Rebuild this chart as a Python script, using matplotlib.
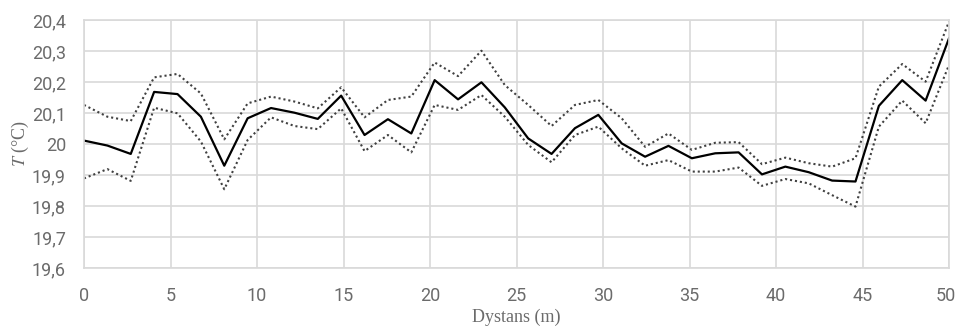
import numpy as np
import matplotlib
matplotlib.use("Agg")
import matplotlib.pyplot as plt
import matplotlib.transforms as mtransforms
from matplotlib.ticker import FuncFormatter, MultipleLocator

n_points = 38
distance = np.linspace(0, 50, n_points)

mean_T = [20.011, 19.995, 19.968, 20.168, 20.161, 20.088, 19.930, 20.083, 20.116, 20.101,
          20.081, 20.156, 20.029, 20.080, 20.034, 20.206, 20.144, 20.199, 20.118, 20.018,
          19.968, 20.051, 20.094, 20.002, 19.959, 19.994, 19.954, 19.970, 19.973, 19.902,
          19.927, 19.909, 19.882, 19.879, 20.123, 20.206, 20.140, 20.341]
upper_T = [20.126, 20.088, 20.074, 20.215, 20.226, 20.163, 20.015, 20.131, 20.153, 20.137,
           20.115, 20.183, 20.086, 20.142, 20.153, 20.263, 20.219, 20.301, 20.190, 20.126,
           20.058, 20.126, 20.142, 20.083, 19.991, 20.034, 19.981, 20.004, 20.006, 19.935,
           19.956, 19.938, 19.927, 19.954, 20.185, 20.258, 20.201, 20.395]
lower_T = [19.889, 19.919, 19.881, 20.117, 20.099, 20.008, 19.854, 20.013, 20.086, 20.058,
           20.048, 20.115, 19.977, 20.029, 19.973, 20.126, 20.110, 20.158, 20.088, 19.997,
           19.941, 20.029, 20.056, 19.986, 19.930, 19.948, 19.911, 19.911, 19.924, 19.865,
           19.887, 19.873, 19.835, 19.798, 20.056, 20.140, 20.067, 20.255]

x_ticks = [0, 5, 10, 15, 20, 25, 30, 35, 40, 45, 50]

plt.rcParams["mathtext.fontset"] = "stix"

fig = plt.figure(figsize=(9.57, 3.29), dpi=100)
ax = fig.add_axes([84 / 957, 1 - 268 / 329, (949 - 84) / 957, (268 - 20) / 329])

grid_c = "#d9d9d9"
text_c = "#6b6b6b"

ax.plot(distance, upper_T, color="#404040", lw=1.5, linestyle=(0, (1, 1.4)))
ax.plot(distance, lower_T, color="#404040", lw=1.5, linestyle=(0, (1, 1.4)))
ax.plot(distance, mean_T, color="black", lw=1.6)

ax.set_xlim(0, 50)
ax.set_ylim(19.6, 20.4)
ax.set_xticks(x_ticks)
ax.yaxis.set_major_locator(MultipleLocator(0.1))


def fmt(v, pos):
    s = f"{v:.1f}"
    if s.endswith(".0"):
        s = s[:-2]
    return s.replace(".", ",")


ax.yaxis.set_major_formatter(FuncFormatter(fmt))
ax.xaxis.set_major_formatter(FuncFormatter(lambda v, p: f"{v:g}"))

ax.grid(True, color=grid_c, lw=1.2)
ax.set_axisbelow(True)
for sp in ax.spines.values():
    sp.set_color(grid_c)
    sp.set_linewidth(1.2)

ax.tick_params(axis="both", length=0, colors=text_c, labelsize=13)
ax.tick_params(axis="x", pad=14)
ax.tick_params(axis="y", pad=13)
for lab in ax.get_xticklabels() + ax.get_yticklabels():
    lab.set_fontfamily("Roboto")

# nudge the last x tick label so it stays inside the figure
last_lab = ax.get_xticklabels()[-1]
last_lab.set_transform(last_lab.get_transform() +
                       mtransforms.ScaledTranslation(-3 / 100, 0, fig.dpi_scale_trans))

ax.set_xlabel("Dystans (m)", family="Liberation Serif", fontsize=13, color=text_c, labelpad=2)
ax.set_ylabel(r"$T$ (°C)", family="Liberation Serif", fontsize=13, color=text_c, labelpad=1)

fig.savefig("out.png", dpi=100)
